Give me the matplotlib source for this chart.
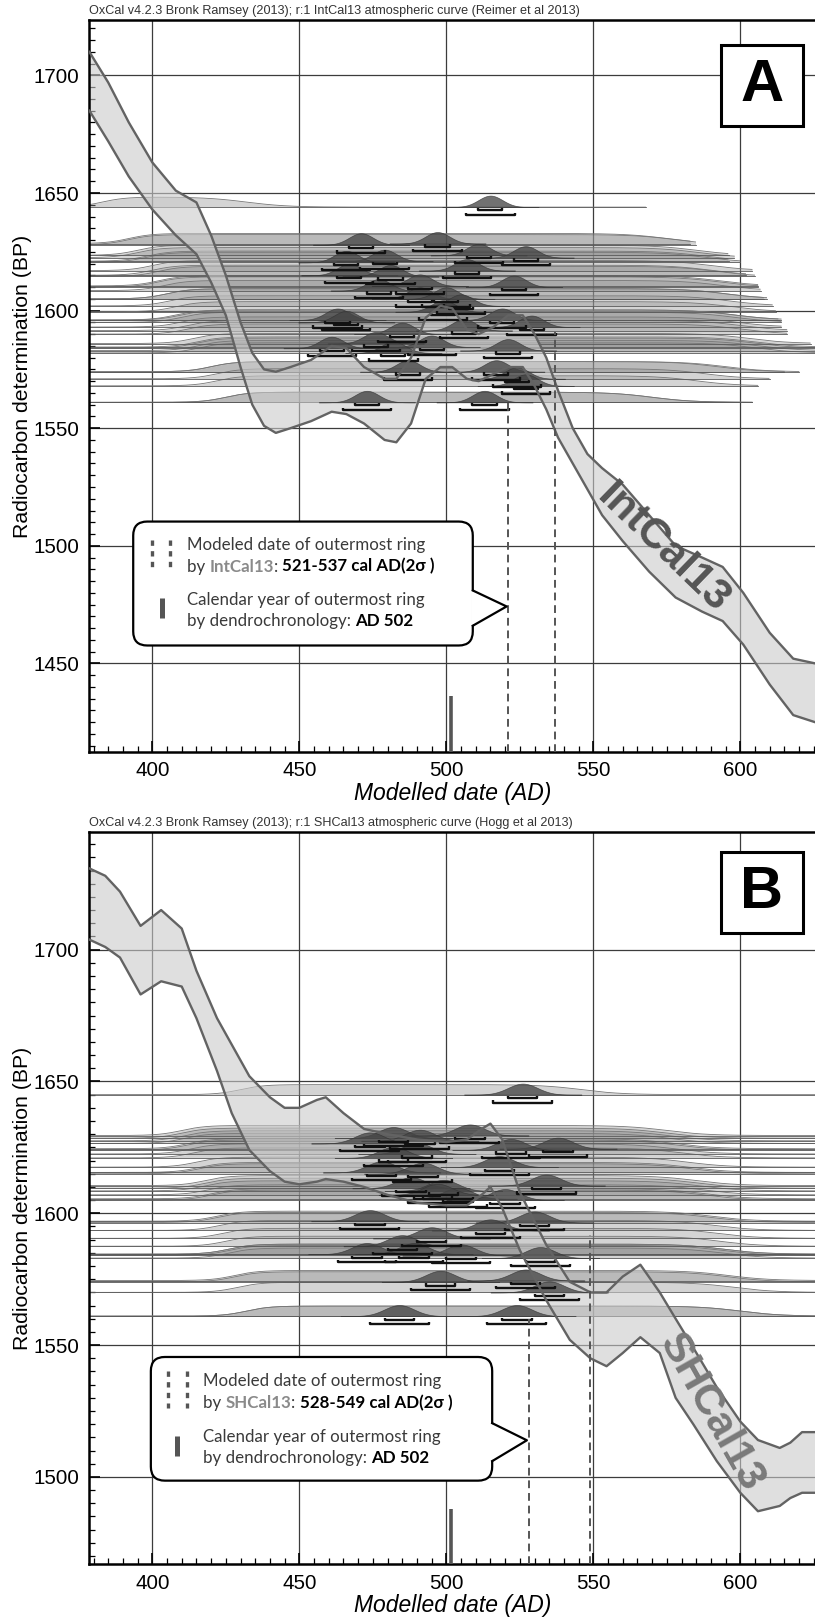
import numpy as np
import matplotlib
matplotlib.use('Agg')
import matplotlib.pyplot as plt
from matplotlib.patches import FancyBboxPatch, Polygon, Rectangle
from matplotlib.transforms import offset_copy, IdentityTransform
from matplotlib.ticker import MultipleLocator

NARROW = ['Liberation Sans Narrow', 'Liberation Sans', 'DejaVu Sans']
HUMAN = ['Lato', 'DejaVu Sans']

# ---- panel A : IntCal13 band (upper / lower edge, BP) ----
a_year = [378.6, 385, 392, 400, 408, 415, 420, 425, 430, 434, 438, 442, 447, 454, 461, 466, 472, 479, 483,
          488, 493, 498, 502, 507, 511, 516, 521, 526, 530, 534, 538, 543, 548, 553, 560, 569, 578, 587,
          594, 601, 610, 618, 625.4]
a_upper = [1710, 1697, 1680, 1663, 1651, 1646, 1632, 1615, 1595, 1582, 1575, 1574, 1576, 1579, 1585, 1584,
           1576, 1571, 1571, 1580, 1597, 1602, 1601, 1592, 1590, 1593, 1598, 1598, 1590, 1580, 1566, 1550,
           1539, 1533, 1526, 1513, 1500, 1495, 1491, 1480, 1463, 1452, 1450]
a_lower = [1685, 1672, 1657, 1643, 1632, 1624, 1612, 1598, 1576, 1560, 1551, 1548, 1550, 1553, 1557, 1556,
           1552, 1545, 1544, 1552, 1571, 1576, 1576, 1571, 1570, 1573, 1576, 1576, 1568, 1558, 1546, 1535,
           1524, 1513, 1502, 1489, 1478, 1472, 1468, 1458, 1441, 1428, 1425]
# samples: radiocarbon age (BP), modelled mode (AD), extent of unmodelled range, end of row line
a_bp = [1644, 1628.5, 1628, 1623.5, 1622.5, 1621, 1620.5, 1617, 1615, 1614.5, 1610, 1608.5, 1610.5, 1605,
        1605, 1602, 1599.5, 1596, 1596, 1595, 1593, 1591.5, 1590, 1586, 1584, 1584.5, 1583, 1582, 1574,
        1574, 1571, 1568, 1561, 1561]
a_mu = [515, 497, 471, 511, 527, 479, 466, 507, 467, 481, 523, 477, 491, 491, 500, 505, 499, 463, 519, 466,
        529, 506, 485, 476, 461, 495, 521, 482, 487, 517, 524, 527, 473, 513]
a_rise = [383, 392, 392, 395, 395, 398, 398, 400, 400, 402, 402, 404, 402, 405, 405, 406, 408, 408, 410, 410,
          410, 412, 412, 414, 415, 415, 416, 416, 420, 420, 422, 422, 425, 425]
a_fall = [432, 575, 578, 585, 586, 588, 588, 590, 590, 592, 593, 594, 593, 595, 595, 596, 597, 598, 598, 598,
          598, 600, 600, 603, 605, 605, 605, 605, 595, 592, 588, 585, 570, 570]
a_end = [568, 583, 585, 596, 598, 596, 600, 604, 602, 605, 606, 607, 606, 608, 609, 611, 612, 613, 614, 614,
         614, 616, 616, 624, 625.4, 625.4, 625.4, 625.4, 620, 615, 610, 606, 604, 604]

# ---- panel B : SHCal13 ----
b_year = [378.2, 384, 389, 396, 403, 410, 415, 422, 427, 433, 440, 445, 450, 456, 459, 465, 472, 480, 490,
          500, 507, 512, 515, 519, 525, 534, 542, 549, 554.5, 560, 566, 572.6, 578, 584, 592, 600, 606,
          613.4, 617, 621, 625.4]
b_upper = [1731, 1728, 1722, 1709, 1715, 1708, 1692, 1674, 1664, 1652, 1644, 1640, 1640, 1643, 1644, 1638,
           1632, 1630, 1628, 1627, 1628, 1632, 1634, 1628, 1608, 1588, 1574, 1570, 1570, 1576, 1580.5,
           1570, 1560, 1549, 1534, 1521, 1514, 1511, 1513, 1517, 1517]
b_lower = [1704, 1701, 1697, 1683, 1688, 1686, 1674, 1654, 1638, 1624, 1616, 1612, 1611, 1612, 1613, 1612,
           1610, 1607, 1604, 1603, 1603, 1607, 1610, 1602, 1586, 1567, 1552, 1545, 1542, 1547, 1553,
           1547, 1530, 1520, 1506, 1494, 1487, 1489, 1492, 1494, 1494]
b_bp = [1645, 1628.5, 1629.5, 1627.5, 1624.5, 1626.5, 1622.5, 1624, 1621, 1617.5, 1615.5, 1615, 1610.5,
        1609.5, 1608.5, 1605.5, 1605, 1607, 1597, 1596.5, 1593.5, 1590.5, 1584.5, 1587.5, 1584, 1583,
        1584.5, 1574, 1574.5, 1570, 1561, 1561]
b_mu = [526, 482, 508, 491, 538, 474, 490, 522, 482, 518, 478, 492, 534, 488, 499, 504, 520, 497, 474, 530,
        515, 495, 473, 485, 505, 532, 489, 498, 527, 535, 484, 524]
b_rise = [430, 410, 410, 411, 412, 411, 413, 412, 414, 415, 416, 416, 418, 418, 418, 420, 420, 419, 422, 422,
          423, 424, 426, 425, 426, 426, 426, 428, 428, 429, 432, 432]
b_fall = [546, 575, 575, 576, 578, 576, 578, 578, 580, 582, 583, 583, 585, 586, 586, 588, 588, 587, 590, 590,
          591, 592, 594, 593, 594, 594, 594, 596, 596, 598, 600, 600]
b_end = [625.4] * len(b_bp)

XLIM = (378.6, 625.4)


def rich(ax, x, y, parts, size):
    fig = ax.figure
    r = fig.canvas.get_renderer()
    dx = 0.0
    for s, color, weight in parts:
        tr = offset_copy(ax.transData, fig=fig, x=dx, y=0, units='dots')
        ax.text(x, y, s, transform=tr, color=color, fontweight=weight, fontsize=size,
                family=HUMAN, va='baseline', ha='left', zorder=9)
        bar = ax.text(0, 0, '|', fontsize=size, fontweight=weight, family=HUMAN)
        probe = ax.text(0, 0, s + '|', fontsize=size, fontweight=weight, family=HUMAN)
        dx += probe.get_window_extent(r).width - bar.get_window_extent(r).width
        bar.remove()
        probe.remove()


def panel(ax, ylim, yrs, up, lo, bp, mu, rise, fall, ends, sig, hd, hl, off, curve_name, header,
          dashes, dash_tops, bar_top, box, tip, texts, marks, label, lab_pos, lab_rot, lab_col, letter):
    ax.set_xlim(*XLIM)
    ax.set_ylim(*ylim)
    t = np.linspace(XLIM[0], XLIM[1], 900)

    # unmodelled distributions: broad plateaus
    for b, a, f, e in zip(bp, rise, fall, ends):
        L = 1 / (1 + np.exp(-(t - a) / 4.0)) / (1 + np.exp(-(f - t) / 7.0))
        h = b + hl * L
        m = t <= e
        ax.fill_between(t[m], b, h[m], color='#949494', alpha=0.4, lw=0, zorder=2)
        ax.plot(t[m], h[m], color='#767676', lw=0.6, zorder=2.1)
        ax.plot([XLIM[0], e], [b, b], color='#5a5a5a', lw=0.6, zorder=2.2)

    # calibration band
    ax.fill_between(yrs, lo, up, color='#cbcbcb', alpha=0.6, lw=0, zorder=2.5)
    ax.plot(yrs, up, color='#636363', lw=1.7, zorder=5)
    ax.plot(yrs, lo, color='#636363', lw=1.7, zorder=5)

    # modelled distributions + 1/2 sigma brackets
    for b, m_ in zip(bp, mu):
        tt = np.linspace(m_ - 4 * sig, m_ + 4 * sig, 120)
        g = b + hd * np.exp(-0.5 * ((tt - m_) / sig) ** 2)
        ax.fill_between(tt, b, g, color='#444444', alpha=0.76, lw=0.5, ec='#333333', zorder=3)
        cap = hd * 0.2
        for k, o in ((1, off[0]), (2, off[1])):
            yb = b - o
            ax.plot([m_ - k * sig, m_ - k * sig, m_ + k * sig, m_ + k * sig],
                    [yb + cap, yb, yb, yb + cap], color='#111111', lw=1.7, zorder=4,
                    solid_capstyle='butt')

    # dashed date range and dendro year
    for xd, yt in zip(dashes, dash_tops):
        ax.plot([xd, xd], [ylim[0], yt], color='#555555', lw=1.4, ls=(0, (4, 2.5)), zorder=6)
    ax.plot([501.5, 501.5], [ylim[0], bar_top], color='#555555', lw=2.6, zorder=6,
            solid_capstyle='butt')

    ax.text(lab_pos[0], lab_pos[1], curve_name, rotation=lab_rot, rotation_mode='anchor',
            ha='center', va='center', fontsize=31, fontweight='bold', color=lab_col,
            family=NARROW, zorder=6)

    # callout
    x0, y0, x1, y1 = box
    p0 = ax.transData.transform((x0, y0))
    p1 = ax.transData.transform((x1, y1))
    ax.add_patch(FancyBboxPatch((p0[0], p0[1]), p1[0] - p0[0], p1[1] - p0[1],
                                boxstyle='round,pad=0,rounding_size=14', transform=IdentityTransform(),
                                fc='white', ec='black', lw=1.6, zorder=7))
    (ya, yb2), (tx, ty) = tip
    ax.add_patch(Polygon([(x1 - 0.6, ya), (tx, ty), (x1 - 0.6, yb2)], closed=True,
                         fc='white', ec='none', zorder=7.5))
    ax.plot([x1, tx, x1], [ya, ty, yb2], color='black', lw=1.6, zorder=7.6)

    (dx1, dx2, dy0, dy1), (bx, by0, by1) = marks
    for xx in (dx1, dx2):
        ax.plot([xx, xx], [dy0, dy1], color='#555555', lw=2.4, ls=(0, (1.6, 1.6)), zorder=8,
                solid_capstyle='butt', dash_capstyle='butt')
    ax.plot([bx, bx], [by0, by1], color='#555555', lw=3.6, zorder=8, solid_capstyle='butt')

    tx0 = texts[0]
    for yy, parts in zip(texts[1], label):
        rich(ax, tx0, yy, parts, 12.2)

    # panel letter
    ax.add_patch(Rectangle((0.870, lab_pos[2]), 0.113, 0.111, transform=ax.transAxes, fc='white',
                           ec='black', lw=2.2, zorder=8))
    ax.text(0.9265, lab_pos[2] + 0.0555, letter, transform=ax.transAxes, ha='center', va='center',
            fontsize=43, fontweight='bold', family=NARROW, zorder=9)

    # axes cosmetics
    ax.set_axisbelow(True)
    ax.xaxis.set_major_locator(MultipleLocator(50))
    ax.xaxis.set_minor_locator(MultipleLocator(5))
    ax.yaxis.set_major_locator(MultipleLocator(50))
    ax.yaxis.set_minor_locator(MultipleLocator(5))
    ax.grid(True, which='major', color='#3c3c3c', lw=0.9)
    ax.tick_params(which='both', direction='in', color='black')
    ax.tick_params(which='major', length=8, width=1.2, labelsize=14.8, pad=7)
    ax.tick_params(which='minor', length=4, width=0.9)
    for lab in ax.get_xticklabels() + ax.get_yticklabels():
        lab.set_family(NARROW)
    for sp in ('left', 'bottom', 'top'):
        ax.spines[sp].set_linewidth(1.8)
    ax.spines['right'].set_visible(False)
    ax.set_xlabel('Modelled date (AD)', fontsize=16.5, style='italic', family=NARROW, labelpad=1)
    ax.set_ylabel('Radiocarbon determination (BP)', fontsize=15.3, family=NARROW)
    ax.yaxis.set_label_coords(-0.079, 0.5)
    ax.text(0, 1.004, header, transform=ax.transAxes, fontsize=9.1, family=NARROW,
            color='#333333', va='bottom', ha='left')


fig = plt.figure(figsize=(8.15, 16.18), dpi=100)
axA = fig.add_axes([0.1097, 0.5355, 0.8903, 0.4519])
axB = fig.add_axes([0.1097, 0.0334, 0.8903, 0.4522])

GREY = '#8a8a8a'
TXT = '#3a3a3a'

panel(axA, (1412.5, 1723.4), a_year, a_upper, a_lower, a_bp, a_mu, a_rise, a_fall, a_end,
      4.1, 4.9, 4.3, (1.3, 3.3),
      'IntCal13', 'OxCal v4.2.3 Bronk Ramsey (2013); r:1 IntCal13 atmospheric curve (Reimer et al 2013)',
      [521, 537], [1561, 1591], 1436,
      (393.5, 1457.6, 509, 1510.3), ((1481, 1466), (520.5, 1474.2)),
      (411.7, [1498, 1489, 1475, 1466]),
      ((399.8, 406, 1502.5, 1489), (403.2, 1478, 1469.5)),
      [[('Modeled date of outermost ring', TXT, 'normal')],
       [('by ', TXT, 'normal'), ('IntCal13', GREY, 'bold'), (': ', TXT, 'normal'),
        ('521-537 cal AD(2σ )', 'black', 'bold')],
       [('Calendar year of outermost ring', TXT, 'normal')],
       [('by dendrochronology: ', TXT, 'normal'), ('AD 502', 'black', 'bold')]],
      (573.6, 1499, 0.855), -44, '#555555', 'A')

panel(axB, (1467, 1744.5), b_year, b_upper, b_lower, b_bp, b_mu, b_rise, b_fall, b_end,
      5.0, 4.2, 3.8, (1.4, 3.0),
      'SHCal13', 'OxCal v4.2.3 Bronk Ramsey (2013); r:1 SHCal13 atmospheric curve (Hogg et al 2013)',
      [528, 549], [1560, 1591.6], 1488,
      (399.5, 1498.6, 515.6, 1545.5), ((1520.4, 1506), (527.4, 1513.9)),
      (417.2, [1534.5, 1526.2, 1513.1, 1505.2]),
      ((405.3, 411.9, 1540, 1526), (408.5, 1515.4, 1507.9)),
      [[('Modeled date of outermost ring', TXT, 'normal')],
       [('by ', TXT, 'normal'), ('SHCal13', GREY, 'bold'), (': ', TXT, 'normal'),
        ('528-549 cal AD(2σ )', 'black', 'bold')],
       [('Calendar year of outermost ring', TXT, 'normal')],
       [('by dendrochronology: ', TXT, 'normal'), ('AD 502', 'black', 'bold')]],
      (590, 1524.3, 0.862), -60.5, '#7a7a7a', 'B')

fig.savefig('out.png', dpi=100)
